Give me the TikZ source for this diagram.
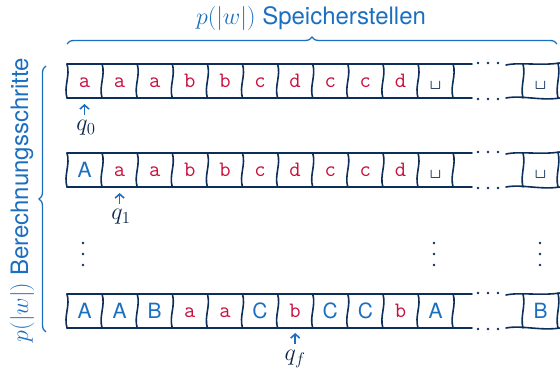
\documentclass[tikz,border=0pt]{standalone}
\usepackage{fix-cm}
\usepackage{fontspec}
\setsansfont{TeX Gyre Heros}
\usetikzlibrary{decorations.pathreplacing,arrows.meta}
\definecolor{tblue}{HTML}{1C6FC0}
\definecolor{tnavy}{HTML}{0E2E5A}
\definecolor{tred}{HTML}{C8103E}
\begin{document}
\begin{tikzpicture}[x=1pt,y=-1pt,
  tape/.style={draw=tnavy, line width=1.6pt, line cap=round},
  lo/.style={font=\fontsize{22}{24}\selectfont\ttfamily, text=tred, inner sep=0pt},
  up/.style={font=\fontsize{21}{24}\selectfont\sffamily, text=tblue, inner sep=0pt},
  bl/.style={font=\fontsize{22}{24}\selectfont\ttfamily, text=tnavy, inner sep=0pt},
  dotc/.style={fill=tnavy, draw=none},
  headarrow/.style={draw=tblue, line width=1.6pt, -{Straight Barb[length=4pt,width=9pt]}},
  qlab/.style={font=\fontsize{24}{26}\selectfont, text=tnavy!80!black, inner sep=0pt, anchor=base},
  brace/.style={draw=tblue, line width=1.3pt, decorate, decoration={brace, amplitude=7pt}},
  blab/.style={text=tblue, font=\fontsize{24}{26}\selectfont\sffamily, inner sep=0pt}]
\useasboundingbox (0,0) rectangle (560,371);

% rows: top, bottom
\foreach \T/\B in {64/98, 153/187, 294/328}{
  \draw[tape] (67,\T) -- (472,\T);
  \draw[tape] (67,\B) -- (472,\B);
  \foreach \k in {0,...,11}{
    \pgfmathsetmacro{\xx}{67+35.1*\k}
    \draw[tape] (\xx,\T) .. controls (\xx+3.5,\T+12) and (\xx-3.5,\B-12) .. (\xx,\B);
  }
  \foreach \dx in {478,488,498}{
    \fill[dotc] (\dx,\T-1) circle (1.3);
    \fill[dotc] (\dx,\B+1) circle (1.3);
  }
  \draw[tape] (506,\T+1) .. controls (520,\T-2) and (540,\T+2) .. (560,\T-1);
  \draw[tape] (506,\B) .. controls (522,\B-3) and (540,\B+3) .. (560,\B);
  \draw[tape] (523,\T) .. controls (526,\T+12) and (520,\B-12) .. (523,\B);
  \draw[tape] (558,\T-1) .. controls (561,\T+12) and (555,\B-12) .. (558,\B);
}

% contents
\foreach \s/\c [count=\i] in {lo/a,lo/a,lo/a,lo/b,lo/b,lo/c,lo/d,lo/c,lo/c,lo/d,bl/\textvisiblespace}{
  \node[\s] (ra\i) at (67+35.1*\i-17.55, 81) {\vphantom{Ab}\c};
}
\node[bl] (ra12) at (540.5,81) {\vphantom{Ab}\textvisiblespace};
\foreach \s/\c [count=\i] in {up/A,lo/a,lo/a,lo/b,lo/b,lo/c,lo/d,lo/c,lo/c,lo/d,bl/\textvisiblespace}{
  \node[\s] (rb\i) at (67+35.1*\i-17.55, 170) {\vphantom{Ab}\c};
}
\node[bl] (rb12) at (540.5,170) {\vphantom{Ab}\textvisiblespace};
\foreach \s/\c [count=\i] in {up/A,up/A,up/B,lo/a,lo/a,up/C,lo/b,up/C,up/C,lo/b,up/A}{
  \node[\s] (rc\i) at (67+35.1*\i-17.55, 311) {\vphantom{Ab}\c};
}
\node[up] (rc12) at (540.5,311) {\vphantom{Ab}B};

% vertical dots
\foreach \vx in {83,434,540}{
  \foreach \vy in {243,254,265}{
    \fill[dotc] (\vx,\vy) circle (1.3);
  }
}

% heads
\node[qlab] (q0) at (86,131) {$q_0$};
\node[qlab] (q1) at (121,220) {$q_1$};
\node[qlab] (qf) at (295,361) {$q_f$};
\coordinate (h0) at (84.5,104);
\coordinate (h1) at (119.6,193);
\coordinate (hf) at (295.2,333);
\coordinate (t0) at (84.5,115);
\coordinate (t1) at (119.6,204);
\coordinate (tf) at (295.2,344);
\draw[headarrow] (t0) -- (h0);
\draw[headarrow] (t1) -- (h1);
\draw[headarrow] (tf) -- (hf);

% braces
\coordinate (bt1) at (67,44);
\coordinate (bt2) at (557,44);
\draw[brace] (bt1) -- (bt2);
\node[blab] (toplab) at (311,19) {$p(|w|)$ Speicherstellen};
\coordinate (bl1) at (46,332);
\coordinate (bl2) at (46,66);
\draw[brace] (bl1) -- (bl2);
\node[blab, rotate=90] (leftlab) at (22,200) {$p(|w|)$ Berechnungsschritte};
\end{tikzpicture}
\end{document}
